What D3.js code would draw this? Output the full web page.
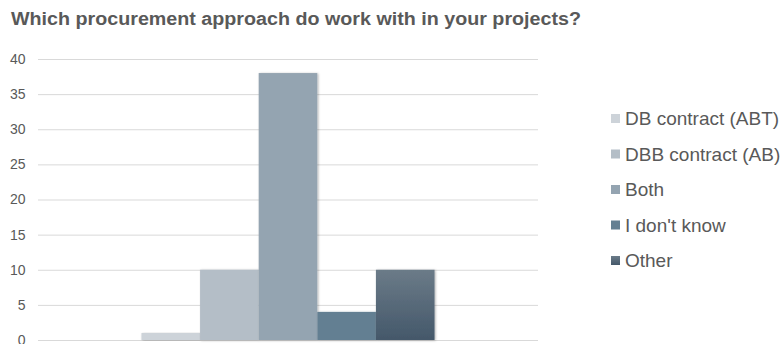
<!DOCTYPE html>
<html>
<head>
<meta charset="utf-8">
<script src="https://cdn.jsdelivr.net/npm/d3@7"></script>
<style>
  html, body { margin: 0; padding: 0; background: #fff; }
  svg { display: block; font-family: "Liberation Sans", Arial, sans-serif; }
</style>
</head>
<body>
<svg id="chart" width="784" height="344"></svg>
<script>
// Survey responses: one question, five answer options
const titleText = "Which procurement approach do work with in your projects?";
const seriesNames = ["DB contract (ABT)", "DBB contract (AB)", "Both", "I don't know", "Other"];
const seriesValues = [1, 10, 38, 4, 10];
const seriesColors = ["#cdd3d9", "#b4bec7", "#94a4b1", "#647f92", "#4f6374"];
const yTicks = [0, 5, 10, 15, 20, 25, 30, 35, 40];

const svg = d3.select("#chart");
const plot = { left: 38, right: 538, top: 59, bottom: 340 };

// gradient for the last series and a soft shadow under the bars
const defs = svg.append("defs");
const grad = defs.append("linearGradient")
  .attr("id", "otherGrad").attr("x1", 0).attr("y1", 0).attr("x2", 0).attr("y2", 1);
grad.append("stop").attr("offset", "0%").attr("stop-color", "#6b7b88");
grad.append("stop").attr("offset", "100%").attr("stop-color", "#44586a");

const shadow = defs.append("filter").attr("id", "barShadow")
  .attr("x", "-10%").attr("y", "-10%").attr("width", "130%").attr("height", "120%");
shadow.append("feDropShadow").attr("dx", 1).attr("dy", 0.5).attr("stdDeviation", 1.2)
  .attr("flood-color", "#000").attr("flood-opacity", 0.3);

const y = d3.scaleLinear().domain([0, 40]).range([plot.bottom, plot.top]);

// one category band holding the five series side by side
const xCat = d3.scaleBand().domain([""]).range([plot.left, plot.right])
  .paddingInner(0).paddingOuter(0.353);
const xSer = d3.scaleBand().domain(seriesNames).range([0, xCat.bandwidth()]).padding(0);

// title
svg.append("text")
  .attr("x", 11).attr("y", 25)
  .attr("font-size", 17.5).attr("font-weight", "bold").attr("fill", "#595959")
  .attr("textLength", 570).attr("lengthAdjust", "spacingAndGlyphs")
  .text(titleText);

// gridlines and value axis
const yAxis = d3.axisLeft(y).tickValues(yTicks).tickSize(-(plot.right - plot.left)).tickPadding(12.5);
const gAxis = svg.append("g").attr("transform", `translate(${plot.left},0)`).call(yAxis);
gAxis.select(".domain").remove();
gAxis.selectAll(".tick line").attr("stroke", "#d9d9d9").attr("stroke-width", 1);
gAxis.selectAll(".tick text")
  .attr("font-size", 14).attr("fill", "#595959")
  .attr("font-family", "'Liberation Sans', Arial, sans-serif");

// bars
svg.append("g").selectAll("rect")
  .data(seriesNames.map((n, i) => ({ name: n, value: seriesValues[i], color: seriesColors[i], i })))
  .join("rect")
  .attr("x", d => xCat("") + xSer(d.name))
  .attr("y", d => y(d.value))
  .attr("width", xSer.bandwidth())
  .attr("height", d => y(0) - y(d.value))
  .attr("fill", d => d.i === 4 ? "url(#otherGrad)" : d.color)
  .attr("filter", "url(#barShadow)");

// legend
const legend = svg.append("g").attr("transform", "translate(611,118.5)");
const rows = legend.selectAll("g").data(seriesNames).join("g")
  .attr("transform", (d, i) => `translate(0,${i * 35.5})`);
rows.append("rect")
  .attr("x", 0).attr("y", -4.5).attr("width", 9).attr("height", 9)
  .attr("fill", (d, i) => i === 4 ? "url(#otherGrad)" : seriesColors[i]);
rows.append("text")
  .attr("x", 14).attr("y", 0).attr("dy", "0.35em")
  .attr("font-size", 19).attr("fill", "#595959")
  .text(d => d);
</script>
</body>
</html>
